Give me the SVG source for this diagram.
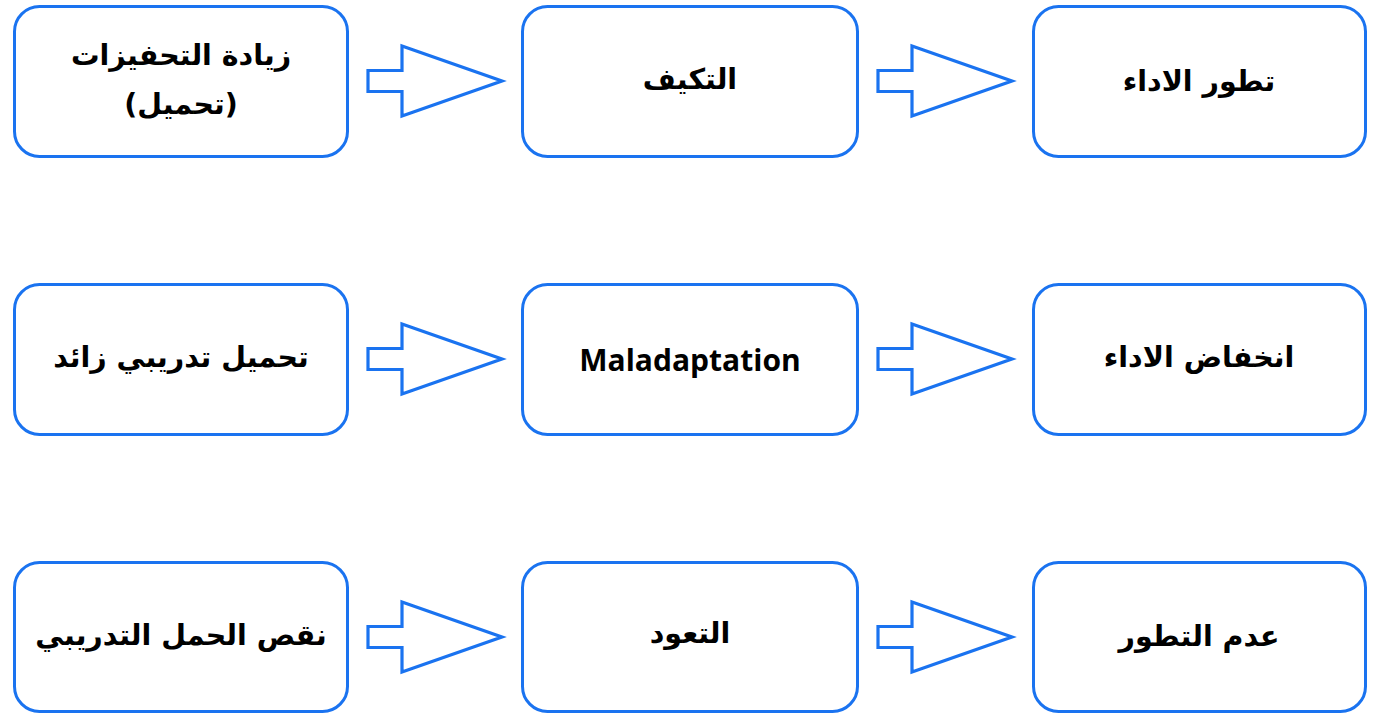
<svg xmlns="http://www.w3.org/2000/svg" width="1374" height="714" viewBox="0 0 1374 714">
<style>
.box{fill:#fff;stroke:#1a73f0;stroke-width:3}
.arr{fill:#fff;stroke:#1a73f0;stroke-width:3.2;stroke-linejoin:miter}
.ar{font-family:"DejaVu Sans","Noto Sans",sans-serif;font-weight:bold;font-size:28.5px;fill:#000;text-anchor:middle;direction:rtl;dominant-baseline:central}
.en{font-family:"Open Sans","Noto Sans",sans-serif;font-weight:bold;font-size:30px;fill:#000;text-anchor:middle;dominant-baseline:central}
</style>
<defs>
<path id="a" class="arr" d="M0,-10.5 H34 V-35 L134,0 L34,35 V10.5 H0 Z"/>
</defs>
<rect width="1374" height="714" fill="#fff"/>
<g id="n1"><rect class="box" x="14.5" y="6.5" width="333" height="150" rx="25"/><text class="ar" x="181" y="55">زيادة التحفيزات</text><text class="ar" x="181" y="104">(تحميل)</text></g>
<g id="n2"><rect class="box" x="522.5" y="6.5" width="335" height="150" rx="25"/><text class="ar" x="690" y="79">التكيف</text></g>
<g id="n3"><rect class="box" x="1033.5" y="6.5" width="332" height="150" rx="25"/><text class="ar" x="1199" y="81">تطور الاداء</text></g>
<g id="n4"><rect class="box" x="14.5" y="284.5" width="333" height="150" rx="25"/><text class="ar" x="181" y="357">تحميل تدريبي زائد</text></g>
<g id="n5"><rect class="box" x="522.5" y="284.5" width="335" height="150" rx="25"/><text class="en" x="690" y="359">Maladaptation</text></g>
<g id="n6"><rect class="box" x="1033.5" y="284.5" width="332" height="150" rx="25"/><text class="ar" x="1199" y="357">انخفاض الاداء</text></g>
<g id="n7"><rect class="box" x="14.5" y="562.5" width="333" height="149" rx="25"/><text class="ar" x="181" y="635">نقص الحمل التدريبي</text></g>
<g id="n8"><rect class="box" x="522.5" y="562.5" width="335" height="149" rx="25"/><text class="ar" x="690" y="633">التعود</text></g>
<g id="n9"><rect class="box" x="1033.5" y="562.5" width="332" height="149" rx="25"/><text class="ar" x="1199" y="636">عدم التطور</text></g>
<g id="connectors">
<use href="#a" x="368" y="81"/>
<use href="#a" x="878" y="81"/>
<use href="#a" x="368" y="359"/>
<use href="#a" x="878" y="359"/>
<use href="#a" x="368" y="637"/>
<use href="#a" x="878" y="637"/>
</g>
</svg>
